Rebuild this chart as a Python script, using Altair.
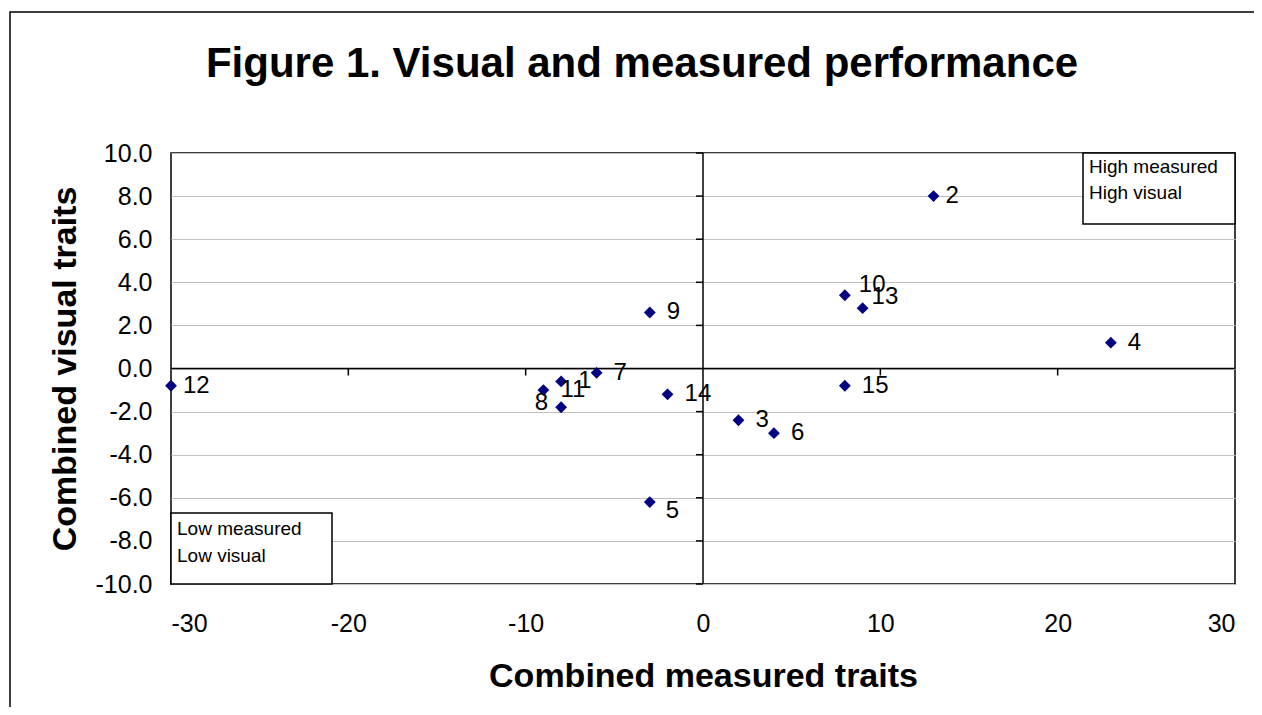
import altair as alt
import pandas as pd

# ---- data ----
labels = ["1", "2", "3", "4", "5", "6", "7", "8", "9", "10", "11", "12", "13", "14", "15"]
measured = [-8, 13, 2, 23, -3, 4, -6, -8, -3, 8, -9, -30, 9, -2, 8]
visual = [-0.6, 8.0, -2.4, 1.2, -6.2, -3.0, -0.2, -1.8, 2.6, 3.4, -1.0, -0.8, 2.8, -1.2, -0.8]
label_place = ["right", "close", "right", "right", "below", "right", "right", "left",
               "right", "above", "right", "close", "above_close", "right", "right"]

x_ticks = [-30, -20, -10, 0, 10, 20, 30]
y_ticks = [-10, -8, -6, -4, -2, 0, 2, 4, 6, 8, 10]
x_minor_marks = [-20, -10, 10, 20]
y_minor_marks = [-10, -8, -6, -4, -2, 2, 4, 6, 8, 10]

title_text = "Figure 1. Visual and measured performance"
x_title = "Combined measured traits"
y_title = "Combined visual traits"
high_lines = ["High measured", "High visual"]
low_lines = ["Low measured", "Low visual"]

FONT = "Liberation Sans"
W, H = 1064, 431

df = pd.DataFrame({"label": labels, "measured": measured, "visual": visual, "place": label_place})

x_scale = alt.Scale(domain=[-30, 30], nice=False, zero=False)
y_scale = alt.Scale(domain=[-10, 10], nice=False, zero=False)

MINUS_FIX = "replace(datum.label, '\u2212', '-')"

x_enc = alt.X("measured:Q", scale=x_scale,
              axis=alt.Axis(values=x_ticks, format="d", labelExpr=MINUS_FIX,
                            grid=False, ticks=False, domain=False,
                            labelFont=FONT, labelFontSize=25, labelColor="#000", labelPadding=27,
                            title=x_title, titleFont=FONT, titleFontSize=34, titleFontWeight="bold",
                            titleColor="#000", titleX=W / 2, titleY=102, titleBaseline="alphabetic"))
y_enc = alt.Y("visual:Q", scale=y_scale,
              axis=alt.Axis(values=y_ticks, format=".1f", labelExpr=MINUS_FIX,
                            grid=True, gridColor="#c0c0c0", gridWidth=1,
                            ticks=False, domain=False,
                            labelFont=FONT, labelFontSize=25, labelColor="#000", labelPadding=19,
                            title=y_title, titleFont=FONT, titleFontSize=34, titleFontWeight="bold",
                            titleColor="#000", titleX=-96, titleY=H / 2, titleBaseline="alphabetic"))

one = pd.DataFrame({"a": [0]})

# outer chart frame (clipped at the page edge as in the reference)
frame = alt.Chart(one).mark_rect(fill="white", fillOpacity=0, stroke="#000", strokeWidth=1.5).encode(
    x=alt.value(-161), x2=alt.value(2000), y=alt.value(-141), y2=alt.value(2000))

# annotation boxes
high_box = alt.Chart(one).mark_rect(fill="white", stroke="#000", strokeWidth=1.5).encode(
    x=alt.value(912), x2=alt.value(W), y=alt.value(0), y2=alt.value(71))
low_box = alt.Chart(one).mark_rect(fill="white", stroke="#000", strokeWidth=1.5).encode(
    x=alt.value(0), x2=alt.value(161), y=alt.value(360), y2=alt.value(H))

def note(txt, px, py):
    return alt.Chart(one).mark_text(font=FONT, fontSize=19, align="left", baseline="middle",
                                    color="#000").encode(
        x=alt.value(px), y=alt.value(py), text=alt.value(txt))

notes = [note(high_lines[0], 918, 14), note(high_lines[1], 918, 40),
         note(low_lines[0], 6, 376), note(low_lines[1], 6, 403)]

# zero lines
zero_v = alt.Chart(pd.DataFrame({"x": [0]})).mark_rule(color="#000", strokeWidth=1.5).encode(
    x=alt.X("x:Q", scale=x_scale))
zero_h = alt.Chart(pd.DataFrame({"y": [0]})).mark_rule(color="#000", strokeWidth=1.5).encode(
    y=alt.Y("y:Q", scale=y_scale))

# tick marks on the zero lines
xt = alt.Chart(pd.DataFrame({"v": x_minor_marks})).mark_tick(
    orient="vertical", size=7, thickness=1.5, yOffset=3.5, color="#000", opacity=1).encode(
    x=alt.X("v:Q", scale=x_scale), y=alt.datum(0))
yt = alt.Chart(pd.DataFrame({"v": y_minor_marks})).mark_tick(
    orient="horizontal", size=7, thickness=1.5, xOffset=-3.5, color="#000", opacity=1).encode(
    y=alt.Y("v:Q", scale=y_scale), x=alt.datum(0))

base = alt.Chart(df)
points = base.mark_point(shape="diamond", filled=True, size=140, color="#000080", opacity=1).encode(
    x=x_enc, y=y_enc, tooltip=["label", "measured", "visual"])

placements = {
    "right": dict(dx=17, dy=0, align="left"),
    "close": dict(dx=12, dy=0, align="left"),
    "below": dict(dx=16, dy=9, align="left"),
    "left": dict(dx=-13, dy=-4, align="right"),
    "above": dict(dx=14, dy=-10, align="left"),
    "above_close": dict(dx=9, dy=-11, align="left"),
}
label_layers = []
for name, p in placements.items():
    label_layers.append(
        base.transform_filter(alt.datum.place == name).mark_text(
            font=FONT, fontSize=24, color="#000", baseline="middle", **p).encode(
            x=alt.X("measured:Q", scale=x_scale), y=alt.Y("visual:Q", scale=y_scale), text="label:N"))

title = alt.Chart(one).mark_text(font=FONT, fontSize=42, fontWeight="bold", align="center",
                                 baseline="alphabetic", color="#000").encode(
    x=alt.value(471), y=alt.value(-76), text=alt.value(title_text))

chart = alt.layer(frame, high_box, low_box, zero_v, zero_h, xt, yt, points, *label_layers,
                  *notes, title).properties(
    width=W, height=H, autosize=alt.AutoSizeParams(type="none"),
    padding={"left": 163, "top": 145, "right": 19, "bottom": 123},
    background="white",
).configure_view(stroke="#000", strokeWidth=1.5)

chart.save("out.html", embed_options={"renderer": "svg", "actions": False})
